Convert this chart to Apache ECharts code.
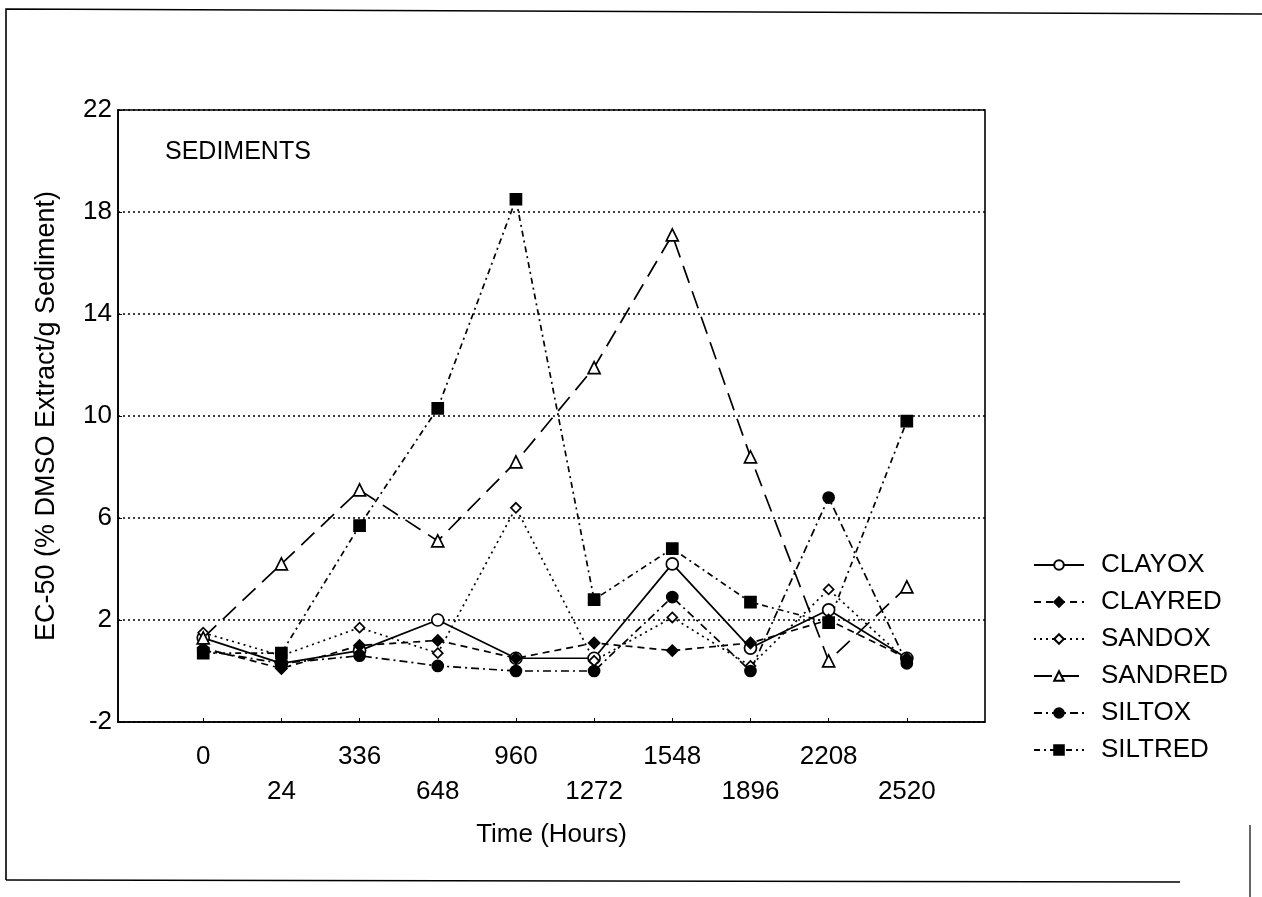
<!DOCTYPE html>
<html>
<head>
<meta charset="utf-8">
<script src="https://cdn.jsdelivr.net/npm/echarts@6/dist/echarts.min.js"></script>
<style>html,body{margin:0;padding:0;background:#fff;}#c{width:1262px;height:897px;}</style>
</head>
<body>
<div id="c"></div>
<script>
const categories = ['0','24','336','648','960','1272','1548','1896','2208','2520'];
const yTicks = [-2, 2, 6, 10, 14, 18, 22];
const CLAYOX  = [1.3, 0.3, 0.8, 2.0, 0.5, 0.5, 4.2, 0.9, 2.4, 0.5];
const CLAYRED = [0.9, 0.1, 1.0, 1.2, 0.5, 1.1, 0.8, 1.1, 2.0, 0.5];
const SANDOX  = [1.5, 0.6, 1.7, 0.7, 6.4, 0.4, 2.1, 0.2, 3.2, 0.4];
const SANDRED = [1.3, 4.2, 7.1, 5.1, 8.2, 11.9, 17.1, 8.4, 0.4, 3.3];
const SILTOX  = [0.8, 0.3, 0.6, 0.2, 0.0, 0.0, 2.9, 0.0, 6.8, 0.3];
const SILTRED = [0.7, 0.7, 5.7, 10.3, 18.5, 2.8, 4.8, 2.7, 1.9, 9.8];

const FONT = 'Liberation Sans';
const toPts = arr => arr.map((v, i) => [i, v]);

function mk(name, data, symbol, filled, size, dash) {
  return {
    name, type: 'line', data: toPts(data), symbol, symbolSize: size,
    showSymbol: true,
    lineStyle: { color: '#000', width: 1.7, type: dash },
    itemStyle: { color: filled ? '#000' : '#fff', borderColor: '#000', borderWidth: 1.7 },
    emphasis: { disabled: true },
    z: 3
  };
}

const chart = echarts.init(document.getElementById('c'), null, { renderer: 'canvas' });
chart.setOption({
  animation: false,
  backgroundColor: '#fff',
  textStyle: { fontFamily: FONT },
  grid: { left: 118, right: 277, top: 110, bottom: 175, show: true, borderColor: '#000', borderWidth: 1.6, backgroundColor: 'transparent' },
  xAxis: {
    type: 'value', min: -1.09, max: 10.0,
    name: 'Time (Hours)', nameLocation: 'middle', nameGap: 100,
    nameTextStyle: { fontSize: 26, color: '#000', fontFamily: FONT },
    axisLine: { show: true, onZero: false, lineStyle: { color: '#000', width: 1.6 } },
    axisTick: { show: true, inside: true, length: 4, customValues: categories.map((c, i) => i), lineStyle: { color: '#000' } },
    splitLine: { show: false },
    axisLabel: {
      customValues: categories.map((c, i) => i),
      fontSize: 26, color: '#000', fontFamily: FONT, margin: 17, lineHeight: 35,
      formatter: v => { const i = Math.round(v); return i % 2 === 1 ? '\n' + categories[i] : categories[i]; }
    }
  },
  yAxis: {
    type: 'value', min: -2, max: 22, interval: 4,
    name: 'EC-50 (% DMSO Extract/g Sediment)', nameLocation: 'middle', nameGap: 58, nameRotate: 90,
    nameTextStyle: { fontSize: 27, color: '#000', fontFamily: FONT },
    axisLine: { show: true, onZero: false, lineStyle: { color: '#000', width: 1.6 } },
    axisTick: { show: true, inside: true, length: 4, lineStyle: { color: '#000' } },
    axisLabel: { fontSize: 26, color: '#000', fontFamily: FONT, margin: 6,
      formatter: v => yTicks.includes(v) ? String(v) : '' },
    splitLine: { show: true, lineStyle: { color: '#000', type: [2, 3], width: 1.5 } }
  },
  legend: {
    orient: 'vertical', left: 1028, top: 547,
    itemWidth: 50, itemHeight: 12, itemGap: 11,
    textStyle: { fontSize: 26, color: '#000', fontFamily: FONT, lineHeight: 26, padding: [0, 0, 0, 12] },
    data: ['CLAYOX','CLAYRED','SANDOX','SANDRED','SILTOX','SILTRED']
  },
  graphic: [
    { type: 'text', left: 165, top: 140, style: { text: 'SEDIMENTS', font: '25px "Liberation Sans"', fill: '#000' } },
    { type: 'polyline', shape: { points: [[6, 880], [6, 9], [1262, 14]] }, style: { stroke: '#000', lineWidth: 1.6, fill: null } },
    { type: 'polyline', shape: { points: [[6, 880], [1180, 882]] }, style: { stroke: '#000', lineWidth: 1.6, fill: null } },
    { type: 'line', shape: { x1: 1250, y1: 825, x2: 1250, y2: 897 }, style: { stroke: '#000', lineWidth: 1.2 } }
  ],
  series: [
    mk('CLAYOX', CLAYOX, 'circle', false, 12, 'solid'),
    mk('CLAYRED', CLAYRED, 'diamond', true, 11, [7, 5]),
    mk('SANDOX', SANDOX, 'diamond', false, 10, [2, 4]),
    mk('SANDRED', SANDRED, 'triangle', false, 12, [18, 9]),
    mk('SILTOX', SILTOX, 'circle', true, 11, [8, 4, 2, 4]),
    mk('SILTRED', SILTRED, 'rect', true, 11, [6, 4, 2, 4])
  ]
});
</script>
</body>
</html>
